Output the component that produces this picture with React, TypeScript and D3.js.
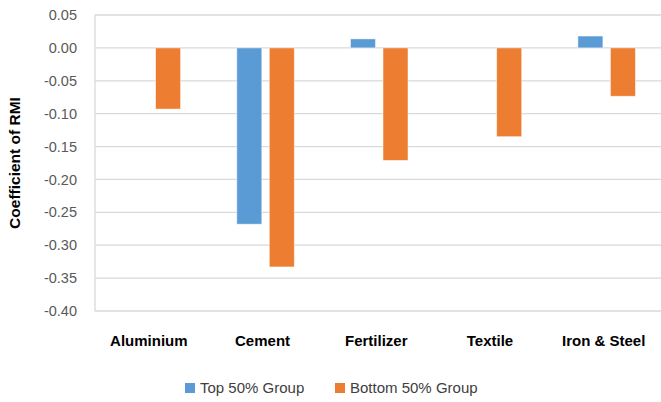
import React from "react";
import * as d3 from "d3";

const categories = ["Aluminium", "Cement", "Fertilizer", "Textile", "Iron & Steel"];
const topGroup = [0, -0.268, 0.0137, 0, 0.018];
const bottomGroup = [-0.093, -0.333, -0.171, -0.135, -0.0735];
const seriesNames = ["Top 50% Group", "Bottom 50% Group"];
const seriesColors = ["#5B9BD5", "#ED7D31"];
const yTicks = [0.05, 0, -0.05, -0.1, -0.15, -0.2, -0.25, -0.3, -0.35, -0.4];

const W = 661;
const H = 402;
const FONT = "'Liberation Sans', Arial, sans-serif";

const fmt = (t: number) => d3.format(".2f")(t).replace("\u2212", "-");

export default function App() {
  const plotLeft = 95;
  const plotRight = 663.5;
  const y = d3.scaleLinear().domain([-0.4, 0.05]).range([311, 15]);
  const x0 = d3.scaleBand<string>().domain(categories).range([plotLeft, plotRight]).paddingInner(0).paddingOuter(0);
  const band = x0.bandwidth();
  const barW = 25;
  const gap = 7.5;
  const series = [topGroup, bottomGroup];

  return (
    <svg width={W} height={H} style={{ position: "absolute", left: 0, top: 0, background: "#fff" }}>
      {yTicks.map((t) => (
        <g key={t}>
          <line x1={plotLeft} x2={W} y1={y(t)} y2={y(t)} stroke="#D9D9D9" strokeWidth={1.3} />
          <text x={77} y={y(t)} dy="0.35em" textAnchor="end" fontFamily={FONT} fontSize={14.5} fill="#595959">
            {fmt(t)}
          </text>
        </g>
      ))}
      <line x1={plotLeft} x2={plotLeft} y1={y(0.05)} y2={y(-0.4)} stroke="#D9D9D9" strokeWidth={1.3} />
      {categories.map((c, i) => {
        const cx = (x0(c) as number) + band / 2;
        return (
          <g key={c}>
            {series.map((s, j) => {
              const v = s[i];
              if (v === 0) return null;
              const bx = j === 0 ? cx - gap / 2 - barW : cx + gap / 2;
              const yTop = y(Math.max(0, v));
              const yBot = y(Math.min(0, v));
              return (
                <rect key={j} x={bx} y={yTop} width={barW} height={yBot - yTop} fill={seriesColors[j]} stroke="#fff" strokeOpacity={0.6} strokeWidth={0.8} />
              );
            })}
            <text x={cx - 3} y={346} textAnchor="middle" fontFamily={FONT} fontWeight="bold" fontSize={15} fill="#000">
              {c}
            </text>
          </g>
        );
      })}
      <text transform={`translate(20,${(y(0.05) + y(-0.4)) / 2}) rotate(-90)`} textAnchor="middle" fontFamily={FONT} fontWeight="bold" fontSize={15.5} fill="#000">
        Coefficient of RMI
      </text>
      {seriesNames.map((n, j) => {
        const lx = j === 0 ? 185 : 335;
        return (
          <g key={n}>
            <rect x={lx} y={383} width={10} height={10} fill={seriesColors[j]} />
            <text x={lx + 15} y={393} fontFamily={FONT} fontSize={15} fill="#404040">
              {n}
            </text>
          </g>
        );
      })}
    </svg>
  );
}
